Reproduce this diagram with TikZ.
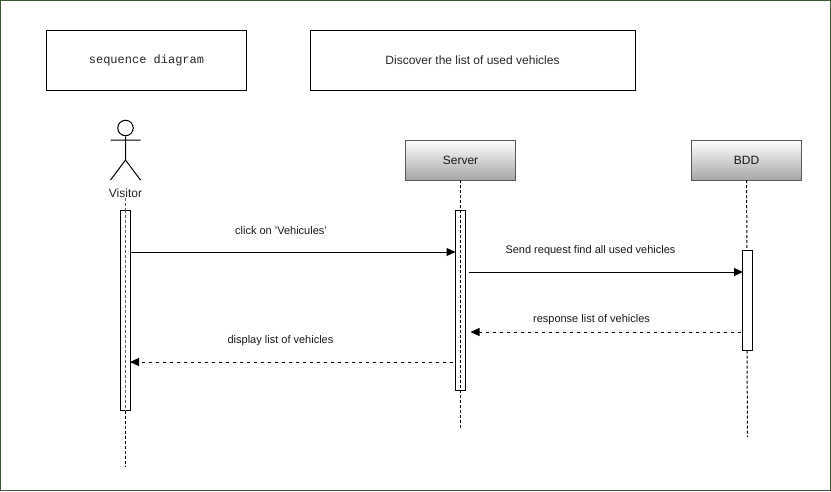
\documentclass[tikz,border=0pt]{standalone}
\usepackage{fontspec}
\setmainfont{Liberation Sans}
\setmonofont{Liberation Mono}
\usetikzlibrary{arrows.meta}
\definecolor{framegreen}{HTML}{3B5A33}
\tikzset{
    title node/.style={draw,line width=1pt,minimum height=60pt,inner sep=0pt,font=\fontsize{12}{14}\selectfont,text=black!85},
    head node/.style={draw=black!65,top color=white,bottom color=black!35,minimum width=110pt,minimum height=40pt,
        inner sep=0pt,font=\fontsize{12}{14}\selectfont,text=black!90},
    bar node/.style={draw,line width=1pt,minimum width=10pt,inner sep=0pt},
    msg node/.style={inner sep=0pt,font=\fontsize{11}{13}\selectfont,text=black!90},
    life line/.style={densely dashed,line width=1pt},
    call/.style={-{Triangle[length=9pt,width=8pt]},line width=1pt},
    answer/.style={-{Triangle[length=9pt,width=8pt]},dash pattern=on 3.5pt off 3.5pt,line width=1pt}
}
\begin{document}
\begin{tikzpicture}[x=1pt,y=-1pt]

        \useasboundingbox (0,0) rectangle (831,491);
        \draw[framegreen,line width=1.4pt] (0.7,0.7) rectangle (830.3,490.3);

        % Define titles
        \node[title node,minimum width=200pt] (kind) at (146.5,60) {\ttfamily sequence diagram};
        \node[title node,minimum width=325pt] (topic) at (472.5,60) {Discover the list of used vehicles};

        % Define actor
        \node[draw,line width=1pt,circle,minimum size=15.5pt,inner sep=0pt] (head) at (125.5,128) {};
        \coordinate (hip) at (125.5,160);
        \coordinate (armL) at (110.5,140);
        \coordinate (armR) at (140.5,140);
        \coordinate (footL) at (110.5,180);
        \coordinate (footR) at (140.5,180);
        \node[font=\fontsize{12}{14}\selectfont,text=black!85,inner sep=0pt] (visitor) at (125.5,193.5) {Visitor};
        \draw[line width=1pt] (head.south) -- (hip) (armL) -- (armR) (footL) -- (hip) -- (footR);

        % Define heads
        \node[head node] (server) at (460.5,160) {Server};
        \node[head node] (bdd) at (746.5,160) {BDD};

        % Define activation bars
        \node[bar node,minimum height=200pt] (barV) at (125.5,310) {};
        \node[bar node,minimum height=180pt] (barS) at (460.5,300) {};
        \node[bar node,minimum height=100pt] (barB) at (747,300) {};

        % Define line ends
        \coordinate (endV) at (125.5,467);
        \coordinate (endS) at (460.5,430);
        \coordinate (endB) at (747.5,437);
        \coordinate (m1a) at (131,252);
        \coordinate (m1b) at (455.5,252);
        \coordinate (m2a) at (469,272);
        \coordinate (m2b) at (743,272);
        \coordinate (m3a) at (741,332);
        \coordinate (m3b) at (470.5,332);
        \coordinate (m4a) at (453,362);
        \coordinate (m4b) at (130,362);

        % Draw life lines
        \draw[life line,black!65] (visitor.south) -- (barV.north);
        \draw[life line,black!65] (barV.north) -- (barV.south);
        \draw[life line] (barV.south) -- (endV);
        \draw[life line] (server.south) -- (endS);
        \draw[life line] (bdd.south) -- (barB.north);
        \draw[life line] (barB.south) -- (endB);

        % Draw messages
        \draw[call] (m1a) -- (m1b);
        \draw[call] (m2a) -- (m2b);
        \draw[answer] (m3a) -- (m3b);
        \draw[answer] (m4a) -- (m4b);

        % Message labels
        \node[msg node] (l1) at (281,230.7) {click on 'Vehicules'};
        \node[msg node] (l2) at (590.5,251) {Send request find all used vehicles};
        \node[msg node] (l3) at (591.5,320) {response list of vehicles};
        \node[msg node] (l4) at (280.5,341) {display list of vehicles};

        \end{tikzpicture}
\end{document}
